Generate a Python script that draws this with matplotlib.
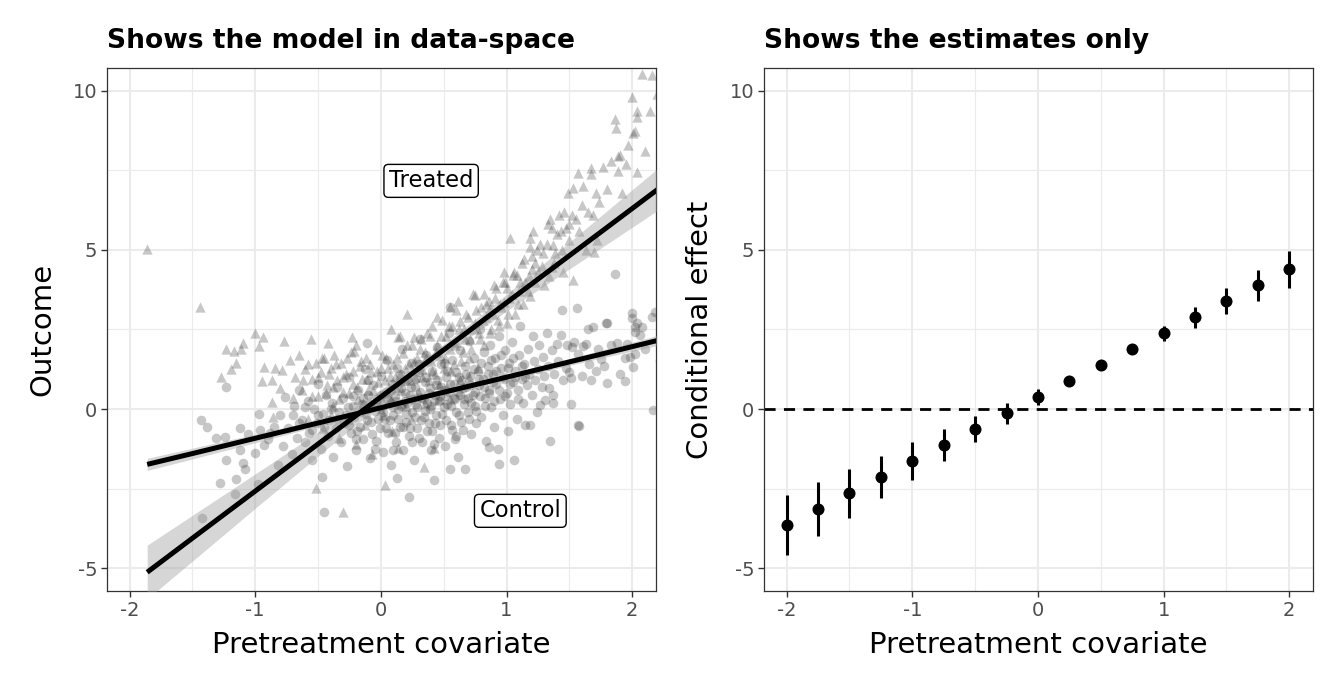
import numpy as np
import matplotlib.pyplot as plt
from matplotlib.ticker import MultipleLocator

plt.rcParams["axes.unicode_minus"] = False

# ---- left panel: raw data ----
treated_pts = [
    (-1.86, 5.03), (-1.44, 3.22), (-1.27, 1.02), (-1.23, 1.88), (-1.19, 1.25), (-1.17, 1.83),
    (-1.15, 1.44), (-1.11, 1.88), (-1.10, 2.09), (-1.00, 2.38), (-0.97, 1.98), (-0.95, 0.89),
    (-0.94, 2.25), (-0.93, 1.33), (-0.87, 0.91), (-0.87, 0.23), (-0.86, -0.24), (-0.84, 1.28),
    (-0.80, 0.65), (-0.79, 1.22), (-0.77, 2.15), (-0.72, 1.55), (-0.70, 0.35), (-0.68, 1.0),
    (-0.65, 1.7), (-0.63, 0.6), (-0.60, 1.25), (-0.58, -0.3), (-0.56, 2.19), (-0.55, 0.95),
    (-0.52, -2.49), (-0.52, 1.45), (-0.50, 0.4), (-0.48, 1.15), (-0.46, -0.6), (-0.45, 1.6),
    (-0.43, 0.75), (-0.42, 2.07), (-0.40, 1.3), (-0.38, 0.1), (-0.37, 1.7), (-0.35, 0.9),
    (-0.33, -0.9), (-0.32, 1.45), (-0.30, -3.23), (-0.30, 0.55), (-0.28, 1.1), (-0.26, -0.3),
    (-0.24, 1.8), (-0.23, 2.27), (-0.22, 0.8), (-0.21, 1.83), (-0.20, -1.1), (-0.18, 0.3),
    (-0.17, 1.35), (-0.15, 0.95), (-0.13, -0.5), (-0.12, 1.6), (-0.10, 0.6), (-0.08, 1.15),
    (-0.07, -1.4), (-0.05, 0.2), (-0.04, 1.9), (-0.02, 0.85), (0.00, 1.3), (0.02, -0.2),
    (0.03, -2.39), (0.04, 1.6), (0.05, 0.5), (0.07, 1.05), (0.08, 2.5), (0.09, -0.7),
    (0.10, 1.4), (0.12, 0.7), (0.14, -1.24), (0.14, 2.25), (0.15, 1.1), (0.17, 0.2),
    (0.18, 1.75), (0.20, 0.9), (0.21, 3.0), (0.22, 1.4), (0.24, -0.3), (0.25, 2.0),
    (0.26, 2.27), (0.27, 1.0), (0.29, 1.6), (0.30, 0.5), (0.32, 2.2), (0.33, 1.25),
    (0.34, -1.81), (0.35, 1.8), (0.37, 2.4), (0.38, 0.9), (0.40, 1.5), (0.41, 2.6),
    (0.42, -1.24), (0.43, 1.1), (0.45, 2.0), (0.46, 0.3), (0.47, 1.7), (0.49, 2.8),
    (0.50, 1.3), (0.52, 2.3), (0.53, 0.7), (0.55, 1.9), (0.55, 3.2), (0.57, 2.6),
    (0.58, 1.4), (0.60, 2.1), (0.61, 3.4), (0.63, 2.78), (0.63, 0.9), (0.65, 1.8),
    (0.66, 2.5), (0.68, 3.0), (0.70, 1.6), (0.71, 2.2), (0.73, 3.6), (0.75, 3.58),
    (0.75, 2.7), (0.77, 1.3), (0.78, 2.4), (0.80, 3.2), (0.82, 3.6), (0.82, 2.0),
    (0.84, 2.9), (0.86, 3.4), (0.87, 3.18), (0.88, 2.5), (0.90, 3.9), (0.92, 3.8),
    (0.93, 2.8), (0.95, 3.3), (0.97, 4.0), (0.98, 3.37), (0.98, 4.31), (1.00, 3.8),
    (1.00, 2.7), (1.02, 3.5), (1.03, 5.38), (1.05, 4.2), (1.07, 3.0), (1.08, 4.22),
    (1.10, 3.7), (1.12, 4.6), (1.13, 3.3), (1.15, 4.0), (1.18, 4.18), (1.19, 5.08),
    (1.19, 5.38), (1.19, 3.55), (1.20, 4.8), (1.21, 5.59), (1.23, 3.98), (1.23, 4.59),
    (1.25, 4.3), (1.27, 5.2), (1.29, 4.9), (1.30, 3.9), (1.33, 5.80), (1.34, 4.18),
    (1.35, 5.98), (1.36, 4.47), (1.37, 5.17), (1.38, 4.6), (1.40, 5.5), (1.42, 6.1),
    (1.44, 5.0), (1.45, 4.3), (1.47, 5.7), (1.49, 6.79), (1.50, 5.3), (1.52, 6.11),
    (1.53, 6.95), (1.53, 4.07), (1.55, 5.97), (1.57, 7.42), (1.58, 5.6), (1.60, 6.4),
    (1.61, 7.0), (1.63, 5.0), (1.65, 6.2), (1.67, 7.58), (1.67, 7.39), (1.69, 6.11),
    (1.70, 4.95), (1.71, 6.79), (1.72, 5.32), (1.74, 6.5), (1.77, 7.60), (1.80, 6.9),
    (1.83, 7.8), (1.86, 9.1), (1.87, 8.84), (1.89, 7.95), (1.89, 7.47), (1.90, 7.98),
    (1.92, 6.8), (1.95, 7.70), (1.97, 8.3), (2.00, 9.80), (2.01, 8.68), (2.02, 8.75),
    (2.04, 9.36), (2.04, 9.17), (2.04, 7.45), (2.08, 10.53), (2.10, 8.1), (2.14, 9.38),
    (2.16, 10.5), (2.20, 9.9), (2.25, 10.8), (2.25, 8.7),
]

# dense middle of the treated cloud
treated_core = [
    (-0.62, 0.9), (-0.58, 1.4), (-0.55, 0.4), (-0.50, 1.0), (-0.47, 1.6), (-0.44, 0.5),
    (-0.41, 1.1), (-0.38, 0.7), (-0.36, 1.4), (-0.33, 0.3), (-0.30, 1.0), (-0.27, 1.6),
    (-0.25, 0.5), (-0.22, 1.2), (-0.19, 0.7), (-0.16, 1.5), (-0.14, 0.2), (-0.11, 0.95),
    (-0.09, 1.4), (-0.06, 0.6), (-0.03, 1.2), (-0.01, 0.4), (0.01, 1.7), (0.03, 0.9),
    (0.06, 1.3), (0.08, 0.3), (0.11, 1.0), (0.13, 1.6), (0.16, 0.6), (0.19, 1.3),
    (0.21, 2.0), (0.23, 0.9), (0.26, 1.5), (0.28, 0.4), (0.31, 1.9), (0.33, 1.0),
    (0.36, 1.6), (0.39, 2.3), (0.41, 1.2), (0.44, 1.8), (0.46, 0.8), (0.48, 2.3),
    (0.51, 1.6), (0.54, 2.6), (0.56, 1.2), (0.59, 2.0), (0.62, 2.5), (0.64, 1.5),
    (0.67, 2.2), (0.69, 2.9), (0.72, 1.9), (0.74, 2.5), (0.76, 3.1), (0.79, 2.2),
    (0.81, 2.8), (0.84, 3.3), (0.87, 2.4), (0.89, 3.0), (0.91, 3.5), (0.94, 2.6),
    (0.96, 3.2), (0.99, 4.0), (1.01, 3.0), (1.04, 3.6), (1.06, 4.3), (1.09, 3.3),
    (1.11, 4.0), (1.14, 4.7), (1.17, 3.7), (1.20, 4.4), (1.24, 5.0), (1.28, 4.5),
    (1.32, 5.2), (1.36, 5.7), (1.39, 4.9), (1.43, 5.6), (1.46, 6.2), (1.50, 5.8),
    (0.00, 0.0), (0.20, 0.1), (-0.40, -0.2), (0.35, 0.2), (0.55, 0.3), (0.70, 1.0),
    (0.15, 2.3), (-0.20, 2.0), (0.60, 3.1), (0.45, 2.9),
]

control_pts = [
    (-1.43, -0.35), (-1.42, -3.44), (-1.38, -0.56), (-1.31, -0.92), (-1.28, -2.32), (-1.24, -0.87),
    (-1.23, 0.70), (-1.23, -1.60), (-1.16, -2.67), (-1.15, -2.21), (-1.12, -0.61), (-1.12, -1.29),
    (-1.10, -1.69), (-1.08, -1.90), (-1.06, -0.77), (-1.00, -1.39), (-0.98, -2.36), (-0.97, -0.16),
    (-0.96, -0.66), (-0.93, -1.13), (-0.90, -0.95), (-0.88, -0.75), (-0.85, -0.55), (-0.82, -1.76),
    (-0.80, -0.2), (-0.78, -1.15), (-0.76, 0.38), (-0.74, -0.6), (-0.71, -1.4), (-0.69, 0.1),
    (-0.67, -0.9), (-0.65, 0.6), (-0.63, -0.35), (-0.60, -1.05), (-0.58, 0.25), (-0.57, -0.75),
    (-0.55, -1.6), (-0.53, 0.0), (-0.51, -0.45), (-0.50, 0.8), (-0.48, -1.25), (-0.47, -2.13),
    (-0.46, -0.15), (-0.45, -3.23), (-0.44, 0.45), (-0.42, -0.85), (-0.41, -0.35), (-0.39, 0.2),
    (-0.38, -1.5), (-0.36, -0.6), (-0.35, 0.7), (-0.33, -0.1), (-0.32, -1.05), (-0.30, 0.35),
    (-0.29, -0.45), (-0.27, -1.8), (-0.26, 0.05), (-0.25, 1.0), (-0.24, -0.75), (-0.22, 0.4),
    (-0.21, -0.25), (-0.20, -1.3), (-0.18, 0.6), (-0.17, -0.55), (-0.15, 0.15), (-0.14, -0.95),
    (-0.13, 1.25), (-0.12, -0.15), (-0.11, 2.09), (-0.10, 0.45), (-0.09, -1.55), (-0.08, -0.4),
    (-0.06, 0.75), (-0.05, -0.05), (-0.04, -1.0), (-0.03, 0.3), (-0.01, -0.6), (0.00, 1.05),
    (0.01, 0.1), (0.02, -1.35), (0.03, -0.3), (0.04, 0.55), (0.05, 1.55), (0.06, -0.75),
    (0.07, 0.2), (0.08, -1.75), (0.09, 0.8), (0.10, -0.2), (0.11, 0.4), (0.12, -1.05),
    (0.13, -2.18), (0.13, 1.3), (0.14, 0.0), (0.15, -0.55), (0.16, 0.65), (0.17, 1.9),
    (0.18, -1.3), (0.19, 0.25), (0.20, -0.4), (0.21, 0.95), (0.22, -2.78), (0.22, -0.85),
    (0.23, 0.45), (0.24, 1.45), (0.25, -0.1), (0.26, -1.6), (0.27, 0.7), (0.28, 0.15),
    (0.29, -0.6), (0.30, 1.15), (0.31, 2.2), (0.32, 0.35), (0.33, -1.05), (0.34, -0.25),
    (0.35, 0.85), (0.36, 1.7), (0.37, -0.7), (0.38, 0.5), (0.39, 0.0), (0.40, -1.3),
    (0.41, 1.2), (0.42, -2.23), (0.42, 0.25), (0.43, -0.45), (0.44, 0.75), (0.45, 1.95),
    (0.46, -0.9), (0.47, 0.4), (0.48, 1.4), (0.49, -0.15), (0.50, 0.6), (0.51, -1.15),
    (0.52, 1.0), (0.53, 0.15), (0.54, 2.4), (0.55, -1.90), (0.55, 3.20), (0.55, 0.8),
    (0.56, -0.5), (0.57, 1.55), (0.58, 0.35), (0.59, -0.95), (0.60, 1.15), (0.61, -1.52),
    (0.61, 0.55), (0.62, -0.2), (0.63, 1.85), (0.64, 0.9), (0.65, -0.65), (0.66, 0.3),
    (0.67, -1.90), (0.67, 1.35), (0.68, 0.7), (0.69, -0.1), (0.70, 2.15), (0.71, 1.05),
    (0.72, -0.8), (0.73, 0.45), (0.74, 1.6), (0.75, 0.1), (0.76, -0.45), (0.77, 1.2),
    (0.78, 0.75), (0.79, 2.5), (0.80, -0.25), (0.81, 0.95), (0.82, 1.8), (0.83, 0.35),
    (0.84, -1.0), (0.85, 1.35), (0.86, -1.20), (0.86, 0.6), (0.87, 2.0), (0.88, 0.05),
    (0.89, 1.1), (0.90, -0.55), (0.91, 1.6), (0.92, 0.8), (0.93, -1.25), (0.94, -1.73),
    (0.94, 2.3), (0.95, 0.3), (0.96, 1.3), (0.97, -0.2), (0.98, 0.95), (0.99, 1.85),
    (1.00, 0.5), (1.01, -0.7), (1.02, 1.45), (1.03, 0.15), (1.04, 2.1), (1.05, 0.85),
    (1.06, -1.60), (1.07, 1.2), (1.08, -0.3), (1.09, 0.6), (1.10, 1.7), (1.11, 2.6),
    (1.12, 0.95), (1.13, 0.2), (1.14, 1.4), (1.15, -0.5), (1.16, 0.75), (1.17, 1.9),
    (1.18, 1.1), (1.19, -0.50), (1.20, 0.45), (1.21, 2.3), (1.22, 1.5), (1.23, 0.9),
    (1.24, -0.1), (1.25, 1.25), (1.26, 2.0), (1.27, 0.14), (1.28, 0.7), (1.29, 1.65),
    (1.30, 1.05), (1.31, 0.28), (1.32, 2.4), (1.33, 1.35), (1.34, 0.65), (1.35, -1.00),
    (1.36, 1.85), (1.37, 0.44), (1.37, 0.20), (1.38, 1.1), (1.40, 2.05), (1.41, 1.5),
    (1.43, 2.33), (1.44, 3.12), (1.45, 0.9), (1.47, 1.3), (1.48, 2.0), (1.50, 1.15),
    (1.51, 0.98), (1.51, 0.15), (1.52, 1.95), (1.54, 2.1), (1.56, 3.18), (1.57, 1.72),
    (1.57, -0.50), (1.58, -0.53), (1.60, 1.03), (1.61, 1.97), (1.63, 2.05), (1.65, 2.5),
    (1.66, 1.42), (1.67, 0.91), (1.69, 2.59), (1.71, 1.2), (1.73, 1.9), (1.75, 1.57),
    (1.78, 1.34), (1.79, 2.69), (1.80, 0.81), (1.80, 2.71), (1.83, 2.0), (1.86, 4.23),
    (1.88, 2.09), (1.90, 1.1), (1.94, 0.89), (1.94, 1.59), (1.96, 2.05), (1.98, 1.64),
    (2.00, 3.01), (2.00, 2.85), (2.01, 1.33), (2.02, 2.59), (2.02, 1.74), (2.02, 2.41),
    (2.04, 2.7), (2.06, 2.32), (2.08, 2.59), (2.10, 1.9), (2.16, 2.9), (2.17, -0.03),
    (2.18, 3.06), (2.22, 1.5), (2.25, 2.4),
]

# dense middle of the control cloud
control_core = [
    (-0.28, -0.2), (-0.25, -0.5), (-0.22, 0.1), (-0.19, -0.7), (-0.16, -0.1), (-0.14, 0.35),
    (-0.11, -0.35), (-0.09, 0.15), (-0.07, -0.8), (-0.04, 0.2), (-0.02, -0.3), (0.00, 0.45),
    (0.02, -0.1), (0.04, -0.6), (0.05, 0.3), (0.07, -0.35), (0.08, 0.6), (0.10, 0.05),
    (0.11, -0.75), (0.12, 0.25), (0.14, -0.3), (0.15, 0.85), (0.16, 0.1), (0.18, -0.55),
    (0.19, 0.5), (0.20, -0.15), (0.21, 0.2), (0.23, -0.6), (0.24, 0.7), (0.25, 0.3),
    (0.27, -0.25), (0.28, 0.95), (0.29, 0.05), (0.30, -0.9), (0.31, 0.55), (0.32, -0.35),
    (0.34, 0.3), (0.35, -0.05), (0.36, 1.0), (0.37, 0.2), (0.38, -0.45), (0.39, 0.65),
    (0.40, 0.1), (0.41, -0.7), (0.43, 0.45), (0.44, -0.2), (0.45, 0.9), (0.46, 0.25),
    (0.47, -0.5), (0.48, 0.7), (0.50, 0.05), (0.51, 0.4), (0.52, -0.35), (0.53, 1.2),
    (0.54, 0.55), (0.56, 0.1), (0.57, -0.65), (0.58, 0.8), (0.59, 0.3), (0.60, -0.1),
    (0.62, 1.0), (0.63, 0.45), (0.64, -0.4), (0.65, 0.65), (0.66, 0.15), (0.68, 1.1),
    (0.69, 0.35), (0.70, -0.3), (0.71, 0.75), (0.72, 0.2), (0.74, 1.25), (0.75, 0.55),
    (0.76, -0.05), (0.78, 0.95), (0.79, 0.4), (0.80, 1.45), (0.82, 0.7), (0.83, 0.1),
    (0.85, 1.1), (0.86, 0.5), (0.88, 1.55), (0.89, 0.85), (0.90, 0.25), (0.92, 1.2),
    (0.94, 0.6), (0.96, 1.7), (0.97, 1.0), (0.99, 0.4), (1.01, 1.3), (1.03, 0.8),
    (1.05, 1.6), (1.07, 1.0), (1.09, 0.3), (1.12, 1.35), (1.15, 1.0), (-0.35, -0.3),
    (-0.40, 0.0), (-0.45, -0.55), (-0.50, -0.2), (-0.55, -0.65), (-0.60, 0.05), (-0.65, -0.45),
    (-0.70, -0.2), (-0.20, -0.95), (-0.05, -1.25), (0.10, -1.3), (0.25, -1.05), (0.42, -1.1),
    (0.60, -0.85), (0.30, 1.4), (0.15, 1.1), (0.50, 1.45), (-0.10, 0.9),
]

# fitted lines with 95% bands
fit_x = [-1.86, -1.5, -1.0, -0.5, 0.0, 0.44, 1.0, 1.5, 2.0, 2.3]
treated_fit = [-5.13, -4.06, -2.58, -1.10, 0.38, 1.68, 3.34, 4.82, 6.30, 7.19]
treated_lo = [-5.97, -4.78, -3.12, -1.48, 0.15, 1.51, 3.08, 4.40, 5.71, 6.50]
treated_hi = [-4.28, -3.34, -2.04, -0.72, 0.61, 1.85, 3.60, 5.24, 6.89, 7.88]
control_fit = [-1.74, -1.40, -0.92, -0.44, 0.04, 0.47, 1.00, 1.48, 1.96, 2.25]
control_lo = [-1.93, -1.57, -1.06, -0.54, -0.03, 0.41, 0.92, 1.37, 1.82, 2.08]
control_hi = [-1.55, -1.23, -0.79, -0.34, 0.11, 0.53, 1.08, 1.59, 2.10, 2.42]

# ---- right panel: conditional effects ----
cov_x = [-2.0, -1.75, -1.5, -1.25, -1.0, -0.75, -0.5, -0.25, 0.0,
         0.25, 0.5, 0.75, 1.0, 1.25, 1.5, 1.75, 2.0]
effect = [-3.63, -3.14, -2.64, -2.14, -1.64, -1.13, -0.63, -0.13, 0.38,
          0.88, 1.37, 1.88, 2.38, 2.88, 3.39, 3.89, 4.39]
eff_lo = [-4.59, -3.99, -3.41, -2.81, -2.22, -1.64, -1.05, -0.46, 0.12,
          0.73, 1.25, 1.78, 2.14, 2.56, 2.99, 3.41, 3.81]
eff_hi = [-2.70, -2.28, -1.89, -1.48, -1.05, -0.64, -0.22, 0.20, 0.62,
          1.03, 1.49, 1.98, 2.62, 3.22, 3.79, 4.37, 4.97]

GRID = "#EBEBEB"
LABEL_SIZE = 21


def style_axes(ax):
    ax.set_xlim(-2.18, 2.19)
    ax.set_ylim(-5.72, 10.72)
    ax.xaxis.set_major_locator(MultipleLocator(1))
    ax.xaxis.set_minor_locator(MultipleLocator(0.5))
    ax.yaxis.set_major_locator(MultipleLocator(5))
    ax.yaxis.set_minor_locator(MultipleLocator(2.5))
    ax.grid(True, which="major", color=GRID, lw=1.5, zorder=0)
    ax.grid(True, which="minor", color=GRID, lw=0.8, zorder=0)
    ax.set_axisbelow(True)
    for s in ax.spines.values():
        s.set_color("#333333")
        s.set_linewidth(0.9)
    ax.tick_params(which="major", direction="out", length=4, width=1.0,
                   color="#333333", labelcolor="#4D4D4D", labelsize=14, pad=3)
    ax.tick_params(which="minor", length=0)


fig = plt.figure(figsize=(13.44, 6.91), dpi=100)
ax1 = fig.add_axes([0.0796, 0.1447, 0.4085, 0.757])
ax2 = fig.add_axes([0.5685, 0.1447, 0.4085, 0.757])

# left
tx, ty = np.array(treated_pts + treated_core).T
cx, cy = np.array(control_pts + control_core).T
ax1.scatter(cx, cy, marker="o", s=48, color="#222222", alpha=0.25, lw=0, zorder=2)
ax1.scatter(tx, ty, marker="^", s=55, color="#222222", alpha=0.25, lw=0, zorder=2)
ax1.fill_between(fit_x, treated_lo, treated_hi, color="#999999", alpha=0.4, lw=0, zorder=3)
ax1.fill_between(fit_x, control_lo, control_hi, color="#999999", alpha=0.4, lw=0, zorder=3)
ax1.plot(fit_x, treated_fit, color="black", lw=3.6, zorder=4, solid_capstyle="butt")
ax1.plot(fit_x, control_fit, color="black", lw=3.6, zorder=4, solid_capstyle="butt")
box = dict(boxstyle="round,pad=0.22,rounding_size=0.2", fc="white", ec="black", lw=1.0)
ax1.text(0.40, 7.17, "Treated", ha="center", va="center", fontsize=16.3, bbox=box, zorder=5)
ax1.text(1.11, -3.2, "Control", ha="center", va="center", fontsize=16.3, bbox=box, zorder=5)
style_axes(ax1)
ax1.set_xlabel("Pretreatment covariate", fontsize=LABEL_SIZE, labelpad=8)
ax1.set_ylabel("Outcome", fontsize=LABEL_SIZE, labelpad=12)
ax1.set_title("Shows the model in data-space", loc="left", fontsize=19.1,
              fontweight="bold", pad=14)

# right
ax2.axhline(0, color="black", lw=2.0, ls=(0, (4, 3)), zorder=2)
ax2.vlines(cov_x, eff_lo, eff_hi, color="black", lw=2.2, zorder=3)
ax2.scatter(cov_x, effect, s=75, color="black", zorder=4, lw=0)
style_axes(ax2)
ax2.set_xlabel("Pretreatment covariate", fontsize=LABEL_SIZE, labelpad=8)
ax2.set_ylabel("Conditional effect", fontsize=LABEL_SIZE, labelpad=11)
ax2.set_title("Shows the estimates only", loc="left", fontsize=19.1,
              fontweight="bold", pad=14)

fig.savefig("out.png", dpi=100, facecolor="white")
